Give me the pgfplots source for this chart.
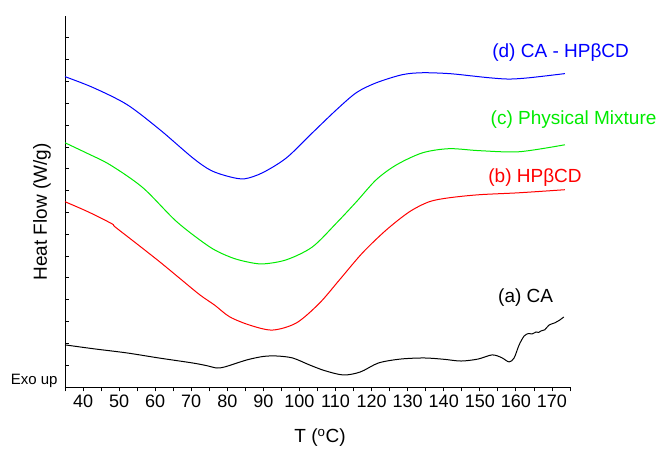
\documentclass[border=0pt]{standalone}
\usepackage{fontspec}
\setmainfont{Liberation Sans}
\usepackage{pgfplots}
\pgfplotsset{compat=1.18}
\usetikzlibrary{calc}
\definecolor{cgreen}{RGB}{0,235,0}
\definecolor{cblue}{RGB}{0,0,255}
\definecolor{cred}{RGB}{255,0,0}
\begin{document}
\begin{tikzpicture}
\begin{axis}[
  scale only axis, width=505pt, height=371pt,
  xmin=35, xmax=175, ymin=0, ymax=17,
  axis x line=bottom, axis y line=left,
  axis line style={-, line width=0.8pt},
  xtick={40,50,...,170}, minor xtick={35,45,...,175},
  xtick align=outside, ytick align=inside,
  major tick length=4.5pt, minor tick length=4.5pt,
  ytick={0,1,...,16}, yticklabels={},
  tick style={black, line width=0.8pt},
  tick label style={font=\fontsize{18}{20}\selectfont},
  /pgf/number format/assume math mode=true,
  xlabel={T (\textsuperscript{o}C)}, ylabel={Heat Flow (W/g)},
  label style={font=\fontsize{19}{22}\selectfont},
  xlabel style={at={(axis description cs:0.505,0)}, anchor=center, yshift=-51pt},
  ylabel style={at={(axis description cs:-0.0455,0.472)}, anchor=center},
  clip=false,
]
\addplot[cblue, line width=1pt, smooth, tension=0.5] coordinates {(35.0,14.22) (42.8,13.72) (52.2,12.94) (61.3,11.79) (70.4,10.50) (75.5,9.92) (80.7,9.63) (84.8,9.54) (89.8,9.82) (96.4,10.50) (103.6,11.65) (110.3,12.71) (115.8,13.49) (121.3,13.94) (128.5,14.31) (134.1,14.40) (141.5,14.36) (148,14.25) (152.6,14.17) (158,14.11) (163.7,14.17) (173.6,14.36)};
\addplot[cgreen, line width=1pt, smooth, tension=0.5] coordinates {(35.0,11.19) (41,10.72) (47.5,10.18) (56.6,9.13) (66,7.57) (75.1,6.42) (80.7,5.96) (85,5.75) (89.8,5.64) (96.4,5.83) (103.6,6.42) (110.3,7.52) (115.8,8.49) (121.3,9.50) (126.9,10.18) (134.1,10.73) (141.5,10.92) (149.8,10.83) (160.9,10.78) (173.6,11.10)};
\addplot[cred, line width=1pt, smooth, tension=0.5] coordinates {(35.0,8.49) (41.5,8.02) (48.0,7.48) (48.85,7.34) (55,6.55) (61.3,5.73) (66.8,4.98) (72.4,4.22) (76.5,3.75) (80.7,3.21) (86.5,2.82) (92.6,2.61) (99.2,2.94) (105.6,3.85) (111.1,4.91) (117.5,6.15) (124.1,7.20) (130.5,8.03) (136,8.49) (141.5,8.67) (149.8,8.81) (160.9,8.90) (173.6,9.04)};
\addplot[black, line width=1pt, smooth, tension=0.5] coordinates {(35.0,1.93) (43,1.75) (52.2,1.56) (61,1.33) (70.4,1.10) (74.5,0.97) (77.1,0.87) (79.5,0.93) (85.4,1.24) (90,1.40) (93.7,1.42) (98.1,1.33) (102.8,1.01) (107,0.75) (112.2,0.55) (116.9,0.69) (121.9,1.10) (128,1.28) (134.6,1.33) (140,1.27) (144.8,1.19) (149.5,1.28) (153.4,1.47) (156,1.35) (158.1,1.15) (159.5,1.33) (160.9,1.93) (162.3,2.34) (163.5,2.45) (164.5,2.43) (165.6,2.52) (166.3,2.50) (167,2.57) (168,2.62) (169.2,2.84) (170.8,2.94) (172,3.05) (173.3,3.21)};
\node[cblue, font=\fontsize{19}{22}\selectfont] at (axis cs:172.4,15.32) {(d) CA - HPβCD};
\node[cgreen, font=\fontsize{19}{22}\selectfont] at (axis cs:176.0,12.25) {(c) Physical Mixture};
\node[cred, font=\fontsize{19}{22}\selectfont] at (axis cs:165.3,9.59) {(b) HPβCD};
\node[black, font=\fontsize{19}{22}\selectfont] at (axis cs:162.7,4.11) {(a) CA};
\node[anchor=base east, font=\fontsize{15}{18}\selectfont, xshift=-4pt, yshift=2pt] at (axis cs:35,0) {Exo up};
\end{axis}
\pgfresetboundingbox
\path ($(current axis.south west)+(-65pt,-64pt)$) rectangle ($(current axis.north east)+(89pt,16pt)$);
\end{tikzpicture}
\end{document}
